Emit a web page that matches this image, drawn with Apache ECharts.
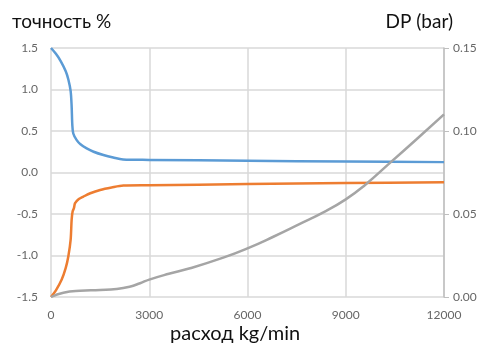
<!DOCTYPE html>
<html><head><meta charset="utf-8">
<script src="https://cdn.jsdelivr.net/npm/echarts@6/dist/echarts.min.js"></script>
<style>html,body{margin:0;padding:0;background:#fff}#c{width:482px;height:347px}</style>
</head><body><div id="c"></div>
<script>
const xTicks = [0, 3000, 6000, 9000, 12000];
const blueFlow = [0,150,300,450,530,600,630,650,680,785,900,1090,1300,1600,1900,2200,3000,6000,9000,12000];
const blueVal  = [1.5,1.43,1.34,1.22,1.12,0.98,0.8,0.58,0.47,0.39,0.34,0.29,0.25,0.21,0.18,0.157,0.152,0.141,0.133,0.125];
const orangeFlow = [0,150,327,450,530,600,630,660,700,735,850,990,1200,1500,1850,2210,3000,6000,9000,12000];
const orangeVal  = [-1.5,-1.42,-1.29,-1.15,-1.01,-0.81,-0.57,-0.47,-0.43,-0.37,-0.32,-0.29,-0.25,-0.21,-0.18,-0.157,-0.153,-0.14,-0.128,-0.116];
const grayFlow = [0,376,886,1500,2000,2400,2720,3000,3600,4245,5260,6000,6790,7600,8300,9000,9590,10350,11170,12000];
const grayVal  = [0,0.0026,0.0038,0.0042,0.0048,0.0062,0.0083,0.0105,0.014,0.0173,0.0237,0.0293,0.0363,0.044,0.0508,0.0588,0.0675,0.0808,0.0952,0.11];

const pairs = (xs, ys) => xs.map((x, i) => [x, ys[i]]);
const chart = echarts.init(document.getElementById('c'));
const font = 'Lato, "Open Sans", sans-serif';
chart.setOption({
  animation: false,
  grid: {left: 51, right: 38, top: 48, bottom: 50},
  graphic: [
    {type: 'text', left: 12, top: 12, style: {text: 'точность %', font: '19px ' + font, fill: '#111'}},
    {type: 'text', right: 29, top: 12, style: {text: 'DP (bar)', font: '19px ' + font, fill: '#111'}},
    {type: 'text', left: 170, top: 324, style: {text: 'расход kg/min', font: '20px ' + font, fill: '#111'}}
  ],
  xAxis: {
    type: 'value', min: 0, max: 12000, interval: 3000,
    axisLine: {show: false}, axisTick: {show: false},
    axisLabel: {color: '#666', fontSize: 12, fontFamily: font, margin: 12, formatter: v => String(v)},
    splitLine: {show: true, lineStyle: {color: '#D9D9D9', width: 1.5}}
  },
  yAxis: [
    {
      type: 'value', min: -1.5, max: 1.5, interval: 0.5, position: 'left',
      axisLine: {show: false}, axisTick: {show: false},
      axisLabel: {color: '#666', fontSize: 12, fontFamily: font, margin: 13, formatter: v => v.toFixed(1)},
      splitLine: {show: true, lineStyle: {color: '#D9D9D9', width: 1.5}}
    },
    {
      type: 'value', min: 0, max: 0.15, interval: 0.05, position: 'right',
      axisLine: {show: true, lineStyle: {color: '#BFBFBF', width: 1.5}},
      axisTick: {show: true, inside: false, length: 5, lineStyle: {color: '#BFBFBF'}},
      axisLabel: {color: '#666', fontSize: 12, fontFamily: font, margin: 9, formatter: v => v.toFixed(2)},
      splitLine: {show: false}
    }
  ],
  series: [
    {type: 'line', yAxisIndex: 0, data: pairs(blueFlow, blueVal), smooth: 0.3, showSymbol: false, lineStyle: {color: '#5B9BD5', width: 2.5}, itemStyle: {color: '#5B9BD5'}},
    {type: 'line', yAxisIndex: 0, data: pairs(orangeFlow, orangeVal), smooth: 0.3, showSymbol: false, lineStyle: {color: '#ED7D31', width: 2.5}, itemStyle: {color: '#ED7D31'}},
    {type: 'line', yAxisIndex: 1, data: pairs(grayFlow, grayVal), smooth: 0.5, showSymbol: false, lineStyle: {color: '#A5A5A5', width: 2.5}, itemStyle: {color: '#A5A5A5'}}
  ]
});
</script></body></html>
